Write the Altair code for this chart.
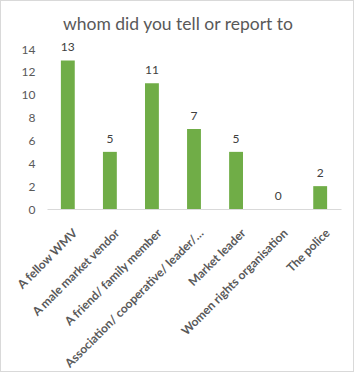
import altair as alt
import pandas as pd

categories = ["A fellow WMV", "A male market vendor", "A friend/ family member",
              "Association/ cooperative/ leader/…", "Market leader",
              "Women rights organisation", "The police"]
values = [13, 5, 11, 7, 5, 0, 2]
y_ticks = [0, 2, 4, 6, 8, 10, 12, 14]

df = pd.DataFrame({"who": categories, "count": values})
FONT = "Lato"
GREY = "#595959"

x = alt.X("who:N", sort=categories, title=None,
          scale=alt.Scale(paddingInner=0.67, paddingOuter=0.33))
y = alt.Y("count:Q", title=None, scale=alt.Scale(domain=[0, 14]),
          axis=alt.Axis(values=y_ticks))

bars = alt.Chart(df).mark_bar(color="#70ad47").encode(x=x, y=y)
labels = alt.Chart(df).mark_text(dy=-13, fontSize=12, color="#404040", font=FONT).encode(
    x=x, y=y, text="count:Q")
border = alt.Chart(df).mark_rect(fill=None, stroke="#d9d9d9", strokeWidth=1).encode(
    x=alt.value(-46.5), x2=alt.value(306.5), y=alt.value(-48.5), y2=alt.value(322.5))

chart = alt.layer(border, bars, labels).properties(
    width=294, height=160,
    padding={"left": 47, "top": 49, "right": 13, "bottom": 163},
    autosize=alt.AutoSizeParams(type="none"),
    title=alt.Title("whom did you tell or report to", fontSize=17.5, color=GREY,
                    font=FONT, fontWeight="normal", anchor="start", frame="group",
                    offset=0, dx=16, dy=33),
    background="white",
).configure_view(stroke=None).configure_axisX(
    labelAngle=-45, labelFontSize=12, labelColor=GREY, labelFont=FONT,
    labelFontWeight="bold", ticks=False, domainColor="#d9d9d9",
    labelPadding=18, labelOffset=4, labelLimit=250, labelOverlap=False,
).configure_axisY(
    grid=False, domain=False, ticks=False, labelFontSize=12, labelColor=GREY,
    labelFont=FONT, labelPadding=12, labelOverlap=False,
)

chart.save("out.html", embed_options={"renderer": "svg", "actions": False})
